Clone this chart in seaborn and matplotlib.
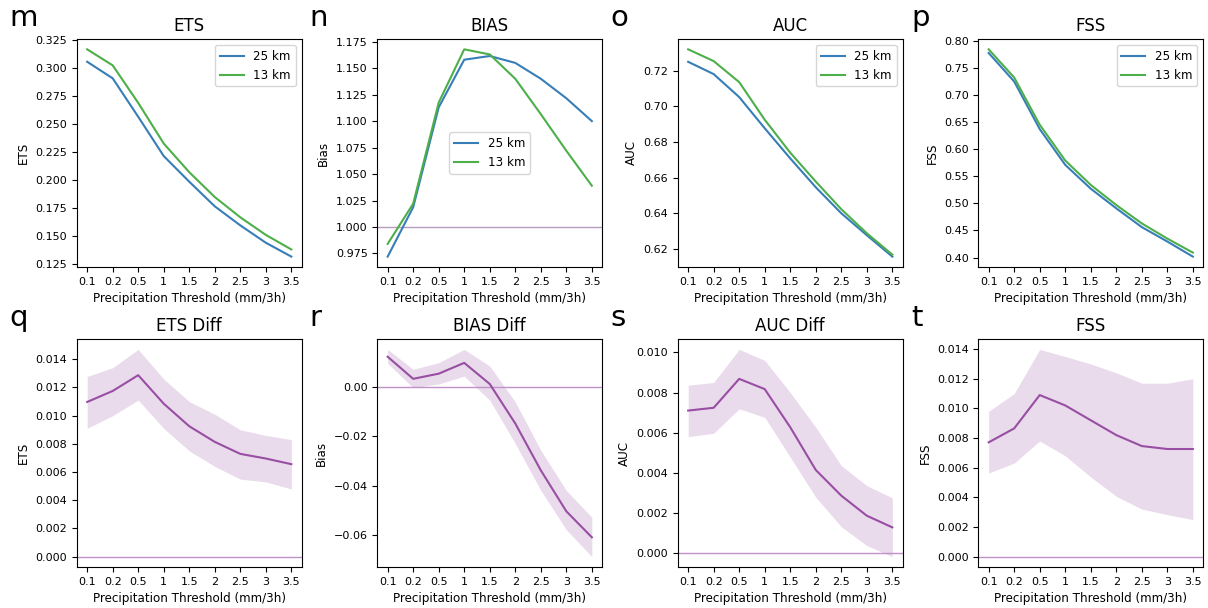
import numpy as np
import pandas as pd
import matplotlib
matplotlib.use("Agg")
import matplotlib.pyplot as plt
import seaborn as sns

thresholds = ['0.1', '0.2', '0.5', '1', '1.5', '2', '2.5', '3', '3.5']

# Top row: scores for the two resolutions
ets_25 = [0.3056, 0.2908, 0.2565, 0.2214, 0.1985, 0.1765, 0.1595, 0.1440, 0.1316]
ets_13 = [0.3167, 0.3024, 0.2689, 0.2326, 0.2070, 0.1848, 0.1667, 0.1510, 0.1380]
bias_25 = [0.972, 1.0187, 1.113, 1.158, 1.1615, 1.155, 1.140, 1.1216, 1.100]
bias_13 = [0.984, 1.022, 1.1175, 1.1678, 1.163, 1.140, 1.1066, 1.072, 1.039]
auc_25 = [0.7250, 0.7181, 0.7052, 0.6877, 0.6708, 0.6546, 0.6400, 0.6277, 0.6157]
auc_13 = [0.7320, 0.7254, 0.7136, 0.6925, 0.6740, 0.6578, 0.6423, 0.6288, 0.6168]
fss_25 = [0.7773, 0.7247, 0.6370, 0.5710, 0.5270, 0.4908, 0.4562, 0.4296, 0.4018]
fss_13 = [0.7840, 0.7320, 0.6450, 0.5790, 0.5340, 0.4969, 0.4630, 0.4350, 0.4092]

# Bottom row: differences (13 km - 25 km) with uncertainty band
ets_diff = [0.01097, 0.01175, 0.01287, 0.01085, 0.00925, 0.00814, 0.00729, 0.00696, 0.00656]
ets_hi = [0.01278, 0.01340, 0.01470, 0.01260, 0.01100, 0.01010, 0.00900, 0.00860, 0.00830]
ets_lo = [0.00910, 0.01000, 0.01110, 0.00910, 0.00750, 0.00640, 0.00550, 0.00530, 0.00480]
bias_diff = [0.0125, 0.0035, 0.0056, 0.0100, 0.0014, -0.0147, -0.0338, -0.0505, -0.0611]
bias_hi = [0.0155, 0.0074, 0.0101, 0.0155, 0.0087, -0.0059, -0.0256, -0.0420, -0.0529]
bias_lo = [0.0098, -0.0001, 0.0014, 0.0046, -0.0052, -0.0229, -0.0420, -0.0580, -0.0690]
auc_diff = [0.00710, 0.00724, 0.00868, 0.00817, 0.00627, 0.00414, 0.00286, 0.00186, 0.00128]
auc_hi = [0.00837, 0.00850, 0.01015, 0.00960, 0.00800, 0.00627, 0.00436, 0.00336, 0.00275]
auc_lo = [0.00580, 0.00597, 0.00719, 0.00676, 0.00478, 0.00278, 0.00131, 0.00037, -0.00018]
fss_diff = [0.00771, 0.00865, 0.01090, 0.01020, 0.00920, 0.00820, 0.00746, 0.00726, 0.00726]
fss_hi = [0.00980, 0.01100, 0.01398, 0.01350, 0.01300, 0.01240, 0.01170, 0.01170, 0.01200]
fss_lo = [0.00564, 0.00631, 0.00780, 0.00680, 0.00537, 0.00407, 0.00321, 0.00283, 0.00250]

BLUE = '#377eb8'
GREEN = '#4daf4a'
PURPLE = '#984ea3'
REF_TOP = '#b79cc0'
REF_BOT = '#c191c9'

TICK_FS = 8
LABEL_FS = 8.6
TITLE_FS = 12
LETTER_FS = 21

fig, axes = plt.subplots(2, 4, figsize=(12.08, 6.08), dpi=100)
plt.subplots_adjust(left=0.0637, right=0.9959, bottom=0.0674, top=0.9359,
                    wspace=0.338, hspace=0.316)

xlabel = 'Precipitation Threshold (mm/3h)'

top = [
    ('ETS', 'ETS', ets_25, ets_13, 'upper right'),
    ('BIAS', 'Bias', bias_25, bias_13, 'center'),
    ('AUC', 'AUC', auc_25, auc_13, 'upper right'),
    ('FSS', 'FSS', fss_25, fss_13, 'upper right'),
]
for ax, (title, ylab, v25, v13, loc) in zip(axes[0], top):
    df = pd.DataFrame({'Threshold': thresholds * 2,
                       'value': v25 + v13,
                       'Resolution': ['25 km'] * len(thresholds) + ['13 km'] * len(thresholds)})
    sns.lineplot(data=df, x='Threshold', y='value', hue='Resolution',
                 palette={'25 km': BLUE, '13 km': GREEN}, lw=1.5, ax=ax)
    if title == 'BIAS':
        ax.axhline(1.0, color=REF_TOP, lw=1.0, zorder=1)
    ax.legend(loc=loc, fontsize=LABEL_FS)
    ax.set_title(title, fontsize=TITLE_FS)
    ax.set_ylabel(ylab, fontsize=LABEL_FS)
    ax.set_xlabel(xlabel, fontsize=LABEL_FS)
    ax.tick_params(labelsize=TICK_FS)

bottom = [
    ('ETS Diff', 'ETS', ets_diff, ets_lo, ets_hi),
    ('BIAS Diff', 'Bias', bias_diff, bias_lo, bias_hi),
    ('AUC Diff', 'AUC', auc_diff, auc_lo, auc_hi),
    ('FSS', 'FSS', fss_diff, fss_lo, fss_hi),
]
for ax, (title, ylab, d, lo, hi) in zip(axes[1], bottom):
    df = pd.DataFrame({'Threshold': thresholds, 'diff': d, 'lo': lo, 'hi': hi})
    sns.lineplot(data=df, x='Threshold', y='diff', color=PURPLE, lw=1.5, ax=ax)
    ax.fill_between(np.arange(len(thresholds)), df['lo'], df['hi'],
                    color=PURPLE, alpha=0.2, lw=0)
    ax.axhline(0.0, color=REF_BOT, lw=1.0, zorder=1)
    ax.set_title(title, fontsize=TITLE_FS)
    ax.set_ylabel(ylab, fontsize=LABEL_FS)
    ax.set_xlabel(xlabel, fontsize=LABEL_FS)
    ax.tick_params(labelsize=TICK_FS)

letters_top = ['m', 'n', 'o', 'p']
letters_bot = ['q', 'r', 's', 't']
letter_x = [9, 309, 610, 911]
for lx, lt, lb in zip(letter_x, letters_top, letters_bot):
    fig.text(lx / 1208, 1 - 26 / 608, lt, fontsize=LETTER_FS, va='baseline', ha='left')
    fig.text(lx / 1208, 1 - 326 / 608, lb, fontsize=LETTER_FS, va='baseline', ha='left')

fig.savefig('out.png', dpi=100)
